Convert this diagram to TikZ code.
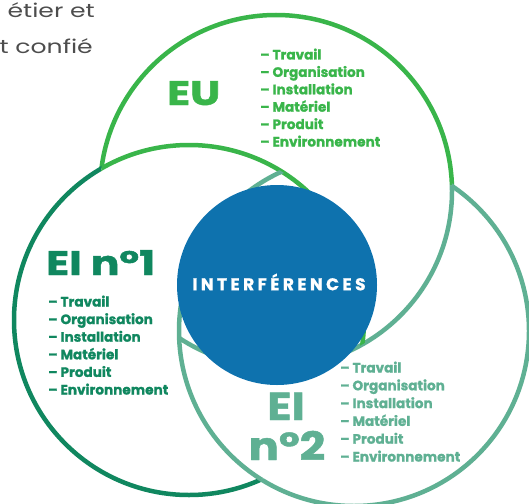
\documentclass[tikz,border=0pt]{standalone}
\usepackage{fontspec}
\setmainfont{Poppins}[BoldFeatures={FakeBold=1.2}]
\newfontfamily\lsfont{Poppins}[LetterSpace=20, BoldFeatures={FakeBold=1.0}]
\definecolor{eugreen}{RGB}{57,181,74}
\definecolor{eidark}{RGB}{16,135,95}
\definecolor{eiteal}{RGB}{95,176,147}
\definecolor{intblue}{RGB}{14,114,174}
\definecolor{txtgray}{RGB}{77,77,77}
\tikzset{
  ring/.style={line width=4.5pt},
  bigtitle/.style={font=\bfseries\fontsize{34}{36}\selectfont, inner sep=0pt, xscale=1.25},
  bigtitletwo/.style={font=\bfseries\fontsize{39}{40}\selectfont, inner sep=0pt, xscale=1.15},
  listline/.style={font=\bfseries\fontsize{13.6}{15}\selectfont, anchor=base west, inner sep=0pt},
  graytext/.style={font=\fontsize{19}{22}\selectfont, text=txtgray, anchor=base east, inner sep=0pt, xscale=1.32}
}
\begin{document}
\begin{tikzpicture}[x=1pt,y=-1pt]
\useasboundingbox (0,0) rectangle (529,503);
\coordinate (cEU) at (276,191);
\coordinate (cA) at (189,320);
\coordinate (cB) at (354,331);
\coordinate (cI) at (277,285);
% EU circle: outside EI1 and EI2 (green)
\begin{scope}[even odd rule]
  \clip (-20,-20) rectangle (560,530) (cA) circle[radius=175pt];
  \clip (-20,-20) rectangle (560,530) (cB) circle[radius=175pt];
  \draw[ring, eugreen] (cEU) circle[radius=176pt];
\end{scope}
% EU circle inside EI2 (teal)
\begin{scope}
  \clip (cB) circle[radius=175pt];
  \draw[ring, eiteal] (cEU) circle[radius=176pt];
\end{scope}
% EI1 circle outside EU and EI2 (dark green)
\begin{scope}[even odd rule]
  \clip (-20,-20) rectangle (560,530) (cEU) circle[radius=176pt];
  \clip (-20,-20) rectangle (560,530) (cB) circle[radius=175pt];
  \draw[ring, eidark] (cA) circle[radius=175pt];
\end{scope}
% EI1 circle inside EU (green)
\begin{scope}
  \clip (cEU) circle[radius=176pt];
  \draw[ring, eugreen] (cA) circle[radius=175pt];
\end{scope}
% EI2 circle outside EU and EI1 (teal)
\begin{scope}[even odd rule]
  \clip (-20,-20) rectangle (560,530) (cEU) circle[radius=176pt];
  \clip (-20,-20) rectangle (560,530) (cA) circle[radius=175pt];
  \draw[ring, eiteal] (cB) circle[radius=175pt];
\end{scope}
% EI2 circle inside EI1 (teal)
\begin{scope}
  \clip (cA) circle[radius=175pt];
  \draw[ring, eiteal] (cB) circle[radius=175pt];
\end{scope}
% central disc
\fill[intblue] (cI) circle[radius=100pt];
\node[font=\lsfont\bfseries\fontsize{17}{18}\selectfont, text=white, inner sep=0pt] (interf) at (279,282) {INTERFÉRENCES};
% titles
\node[bigtitle, text=eugreen, anchor=base west] (eut) at (167,105) {EU};
\node[bigtitle, text=eidark, anchor=base west] (eaone) at (46,275) {EI n°1};
\node[bigtitletwo, text=eiteal, anchor=base] (eatwoa) at (286,420) {EI};
\node[bigtitletwo, text=eiteal, anchor=base] (eatwob) at (287,460) {n°2};
% lists
\foreach \t [count=\i] in {Travail,Organisation,Installation,Matériel,Produit,Environnement}{
  \node[listline, text=eugreen] (eul\i) at (260,{59.5+17.4*(\i-1)}) {– \t};
  \node[listline, text=eidark] (eal\i) at (48,{306.5+17.6*(\i-1)}) {– \t};
  \node[listline, text=eiteal] (ebl\i) at (340,{372.5+17.8*(\i-1)}) {– \t};
}
% top-left text
\node[graytext] (tl1) at (95,18) {étier et};
\node[graytext] (tl2) at (93,53) {t confié};
\end{tikzpicture}
\end{document}
